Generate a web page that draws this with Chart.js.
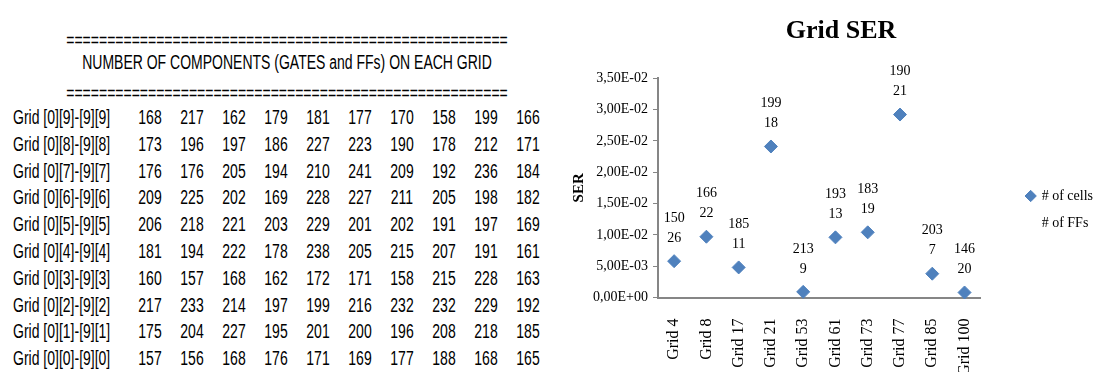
<!DOCTYPE html>
<html>
<head>
<meta charset="utf-8">
<script src="https://cdn.jsdelivr.net/npm/chart.js@4.4.0/dist/chart.umd.min.js"></script>
<style>
    html, body { margin: 0; padding: 0; width: 1094px; height: 372px; overflow: hidden; background: #fff; }
    #table { position: absolute; left: 0; top: 0; width: 560px; height: 372px; color: #000;
             font-family: 'Liberation Sans', Arial, sans-serif; font-size: 20px; }
    #table div { position: absolute; line-height: 24px; white-space: nowrap; }
    #table .left { transform: scaleX(0.7); transform-origin: 0 50%; }
    #table .mid { transform: translateX(-50%) scaleX(0.7); transform-origin: 50% 50%; }
    #chartBox { position: absolute; left: 560px; top: 0; width: 540px; height: 419px; }
</style>
</head>
<body>
<div id="table"></div>
<div id="chartBox"><canvas id="ser"></canvas></div>
<script>
// component counts per grid row
const headerText = 'NUMBER OF COMPONENTS (GATES and FFs) ON EACH GRID';
const ruleText = '='.repeat(54);
const rowLabels = [
    'Grid [0][9]-[9][9]', 'Grid [0][8]-[9][8]', 'Grid [0][7]-[9][7]', 'Grid [0][6]-[9][6]',
    'Grid [0][5]-[9][5]', 'Grid [0][4]-[9][4]', 'Grid [0][3]-[9][3]', 'Grid [0][2]-[9][2]',
    'Grid [0][1]-[9][1]', 'Grid [0][0]-[9][0]',
];
const row9 = [168, 217, 162, 179, 181, 177, 170, 158, 199, 166];
const row8 = [173, 196, 197, 186, 227, 223, 190, 178, 212, 171];
const row7 = [176, 176, 205, 194, 210, 241, 209, 192, 236, 184];
const row6 = [209, 225, 202, 169, 228, 227, 211, 205, 198, 182];
const row5 = [206, 218, 221, 203, 229, 201, 202, 191, 197, 169];
const row4 = [181, 194, 222, 178, 238, 205, 215, 207, 191, 161];
const row3 = [160, 157, 168, 162, 172, 171, 158, 215, 228, 163];
const row2 = [217, 233, 214, 197, 199, 216, 232, 232, 229, 192];
const row1 = [175, 204, 227, 195, 201, 200, 196, 208, 218, 185];
const row0 = [157, 156, 168, 176, 171, 169, 177, 188, 168, 165];

// SER per selected grid
const gridLabels = ['Grid 4', 'Grid 8', 'Grid 17', 'Grid 21', 'Grid 53', 'Grid 61', 'Grid 73', 'Grid 77', 'Grid 85', 'Grid 100'];
const serValues = [0.0058, 0.0097, 0.0048, 0.0241, 0.0009, 0.0096, 0.0104, 0.0292, 0.0038, 0.0008];
const cellCounts = [150, 166, 185, 199, 213, 193, 183, 190, 203, 146];
const ffCounts = [26, 22, 11, 18, 9, 13, 19, 21, 7, 20];

const SERIF = "'Liberation Serif', 'Times New Roman', serif";
const AXIS_GRAY = '#868686';
const MARKER_BLUE = '#4F81BD';

// --- left text table ---
const table = document.getElementById('table');

function addText(text, cls, x, y) {
    const el = document.createElement('div');
    el.className = cls;
    el.textContent = text;
    el.style.left = x + 'px';
    el.style.top = (y - 12) + 'px';
    table.appendChild(el);
}

addText(ruleText, 'mid', 287, 40);
addText(headerText, 'mid', 287, 62);
addText(ruleText, 'mid', 287, 93);

const rows = [row9, row8, row7, row6, row5, row4, row3, row2, row1, row0];
rows.forEach((vals, r) => {
    const y = 117 + r * 26.8;
    addText(rowLabels[r], 'left', 13, y);
    vals.forEach((v, c) => addText(String(v), 'mid', 150 + c * 42, y));
});

// --- SER scatter ---
function sciLabel(v) {
    if (Math.abs(v) < 1e-12) return '0,00E+00';
    const [m, e] = v.toExponential(2).split('e');
    const n = parseInt(e, 10);
    return m.replace('.', ',') + 'E' + (n < 0 ? '-' : '+') + String(Math.abs(n)).padStart(2, '0');
}

// two-line label above each marker: cells on top, FFs below
const pointLabels = {
    id: 'pointLabels',
    afterDatasetsDraw(chart) {
        const ctx = chart.ctx;
        const meta = chart.getDatasetMeta(0);
        ctx.save();
        ctx.font = '14px ' + SERIF;
        ctx.fillStyle = '#000';
        ctx.textAlign = 'center';
        ctx.textBaseline = 'middle';
        meta.data.forEach((pt, i) => {
            ctx.fillText(String(cellCounts[i]), pt.x, pt.y - 43);
            ctx.fillText(String(ffCounts[i]), pt.x, pt.y - 23);
        });
        ctx.restore();
    },
};

new Chart(document.getElementById('ser'), {
    type: 'line',
    data: {
        labels: gridLabels,
        datasets: [
            {
                label: '# of cells',
                data: serValues,
                showLine: false,
                pointStyle: 'rectRot',
                pointRadius: 6.5,
                backgroundColor: MARKER_BLUE,
                borderColor: MARKER_BLUE,
                borderWidth: 1,
                clip: false,
            },
            {
                label: '# of FFs',
                data: [],
                showLine: false,
                pointStyle: 'rectRot',
                backgroundColor: 'rgba(0,0,0,0)',
                borderColor: 'rgba(0,0,0,0)',
            },
        ],
    },
    options: {
        responsive: true,
        maintainAspectRatio: false,
        animation: false,
        events: [],
        layout: { padding: { left: 22, right: 0, top: 0, bottom: 0 } },
        scales: {
            x: {
                type: 'category',
                offset: true,
                afterFit: (s) => { s.height = 121.5; },
                grid: { display: false },
                border: { display: true, color: AXIS_GRAY, width: 2 },
                ticks: {
                    autoSkip: false,
                    minRotation: 90,
                    maxRotation: 90,
                    padding: 13,
                    color: '#000',
                    font: { family: SERIF, size: 16 },
                },
            },
            y: {
                min: 0,
                max: 0.035,
                afterFit: (s) => { s.width = 76; },
                grid: { display: true, drawOnChartArea: false, drawTicks: true, tickLength: 5, color: AXIS_GRAY },
                border: { display: true, color: AXIS_GRAY, width: 2 },
                ticks: {
                    stepSize: 0.005,
                    padding: 5,
                    color: '#000',
                    font: { family: SERIF, size: 14 },
                    callback: (v) => sciLabel(v),
                },
                title: {
                    display: true,
                    text: 'SER',
                    color: '#000',
                    font: { family: SERIF, size: 15, weight: 'bold' },
                    padding: { top: -12, bottom: 0 },
                },
            },
            // keeps the legend clear of the plot
            gap: {
                type: 'linear',
                position: 'right',
                afterFit: (s) => { s.width = 33; },
                grid: { display: false },
                ticks: { display: false },
                border: { display: false },
            },
        },
        plugins: {
            title: {
                display: true,
                text: 'Grid SER',
                color: '#000',
                font: { family: SERIF, size: 26, weight: 'bold' },
                padding: { top: 16, bottom: 31 },
            },
            legend: {
                position: 'right',
                labels: {
                    usePointStyle: true,
                    boxWidth: 8,
                    boxHeight: 8,
                    padding: 13,
                    color: '#000',
                    font: { family: SERIF, size: 14 },
                },
            },
            tooltip: { enabled: false },
        },
    },
    plugins: [pointLabels],
});
</script>
</body>
</html>
